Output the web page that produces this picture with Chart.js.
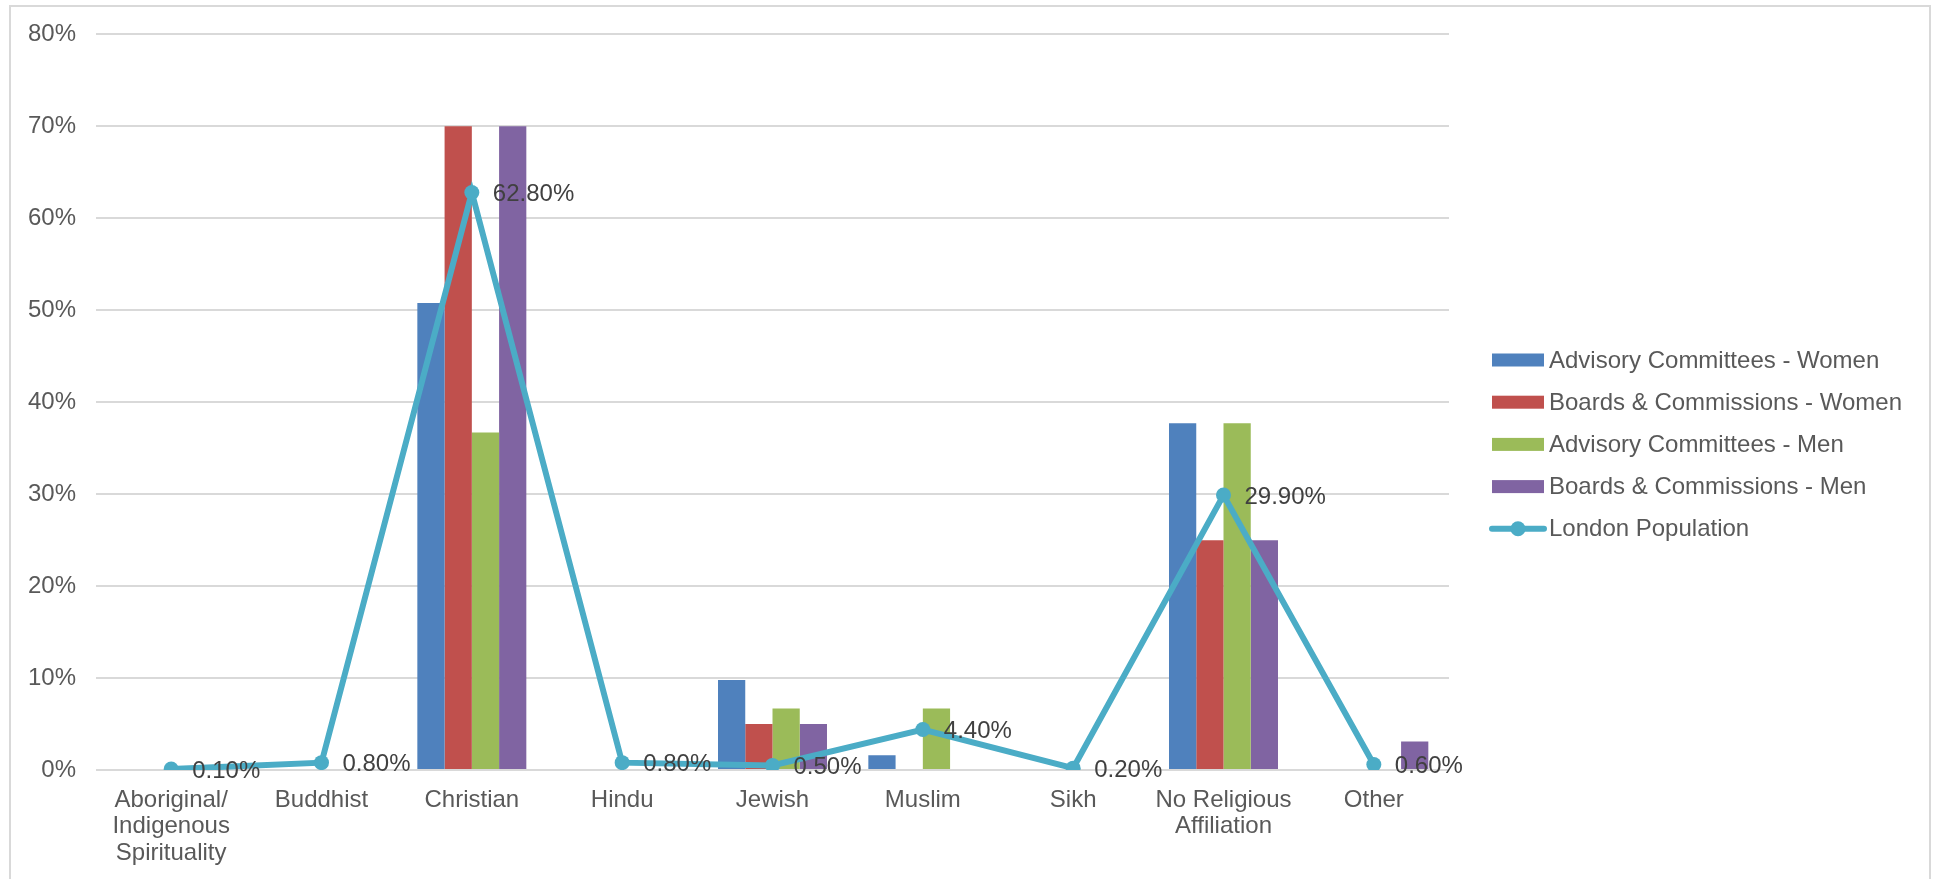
<!DOCTYPE html>
<html>
<head>
<meta charset="utf-8">
<script src="https://cdn.jsdelivr.net/npm/chart.js@4/dist/chart.umd.min.js"></script>
<style>
  html, body { margin: 0; padding: 0; background: #fff; overflow: hidden; }
  #wrap { position: relative; width: 1933px; height: 879px; }
  #frame { position: absolute; left: 9px; top: 5px; width: 1918px; height: 900px; border: 2px solid #d9d9d9; }
  #chart { position: absolute; left: 0; top: 0; }
</style>
</head>
<body>
<div id="wrap">
  <div id="frame"></div>
  <canvas id="chart" width="1933" height="879"></canvas>
</div>
<script>
const categories = [
    ['Aboriginal/', 'Indigenous', 'Spirituality'],
    'Buddhist', 'Christian', 'Hindu', 'Jewish', 'Muslim', 'Sikh',
    ['No Religious', 'Affiliation'],
    'Other'
];
const advisoryWomen = [0, 0, 50.8, 0, 9.8, 1.6, 0, 37.7, 0];
const boardsWomen   = [0, 0, 70, 0, 5, 0, 0, 25, 0];
const advisoryMen   = [0, 0, 36.7, 0, 6.7, 6.7, 0, 37.7, 0];
const boardsMen     = [0, 0, 70, 0, 5, 0, 0, 25, 3.1];
const londonPop     = [0.1, 0.8, 62.8, 0.8, 0.5, 4.4, 0.2, 29.9, 0.6];
const yTicks = [0, 10, 20, 30, 40, 50, 60, 70, 80];

const FONT = "'Liberation Sans', Arial, sans-serif";

// value labels to the right of each population point
const pointLabels = {
    id: 'pointLabels',
    afterDatasetsDraw(chart) {
        const ctx = chart.ctx;
        const meta = chart.getDatasetMeta(4);
        ctx.save();
        ctx.font = '24px ' + FONT;
        ctx.fillStyle = '#404040';
        ctx.textAlign = 'left';
        ctx.textBaseline = 'middle';
        meta.data.forEach((pt, i) => {
            ctx.fillText(londonPop[i].toFixed(2) + '%', pt.x + 21, pt.y + 2);
        });
        ctx.restore();
    }
};

// legend on the right, drawn from the datasets
const sideLegend = {
    id: 'sideLegend',
    afterDraw(chart) {
        const ctx = chart.ctx;
        const x0 = 1492, top = 360, step = 42.2;
        ctx.save();
        ctx.font = '24px ' + FONT;
        ctx.textBaseline = 'middle';
        ctx.textAlign = 'left';
        chart.data.datasets.forEach((ds, i) => {
            const y = top + i * step;
            if (ds.type === 'line') {
                ctx.strokeStyle = ds.borderColor;
                ctx.lineWidth = 6;
                ctx.lineCap = 'round';
                ctx.beginPath();
                ctx.moveTo(x0, y);
                ctx.lineTo(x0 + 52, y);
                ctx.stroke();
                ctx.fillStyle = ds.borderColor;
                ctx.beginPath();
                ctx.arc(x0 + 26, y, 7.5, 0, Math.PI * 2);
                ctx.fill();
            } else {
                ctx.fillStyle = ds.backgroundColor;
                ctx.fillRect(x0, y - 6.5, 52, 13);
            }
            ctx.fillStyle = '#595959';
            ctx.fillText(ds.label, x0 + 57, y + 1);
        });
        ctx.restore();
    }
};

new Chart(document.getElementById('chart').getContext('2d'), {
    type: 'bar',
    data: {
        labels: categories,
        datasets: [
            { label: 'Advisory Committees - Women', data: advisoryWomen, backgroundColor: '#4F81BD', order: 1 },
            { label: 'Boards & Commissions - Women', data: boardsWomen, backgroundColor: '#C0504D', order: 1 },
            { label: 'Advisory Committees - Men', data: advisoryMen, backgroundColor: '#9BBB59', order: 1 },
            { label: 'Boards & Commissions - Men', data: boardsMen, backgroundColor: '#8064A2', order: 1 },
            {
                type: 'line',
                label: 'London Population',
                data: londonPop,
                borderColor: '#4BACC6',
                backgroundColor: '#4BACC6',
                borderWidth: 6,
                pointRadius: 7.5,
                pointBackgroundColor: '#4BACC6',
                pointBorderWidth: 0,
                tension: 0,
                order: 0
            }
        ]
    },
    options: {
        responsive: false,
        animation: false,
        events: [],
        layout: { padding: { top: 34, right: 484, left: 0, bottom: 0 } },
        datasets: {
            bar: { categoryPercentage: 0.725, barPercentage: 1.0 }
        },
        plugins: {
            legend: { display: false },
            tooltip: { enabled: false }
        },
        scales: {
            x: {
                grid: { display: false, drawTicks: false },
                border: { display: false },
                ticks: {
                    color: '#595959',
                    font: { family: FONT, size: 24, lineHeight: 1.1 },
                    padding: 17,
                    maxRotation: 0,
                    autoSkip: false
                },
                afterFit(scale) { scale.height = 109; }
            },
            y: {
                min: 0,
                max: 80,
                afterBuildTicks(scale) { scale.ticks = yTicks.map(v => ({ value: v })); },
                grid: { color: '#d9d9d9', lineWidth: 2, drawTicks: false },
                border: { display: false },
                ticks: {
                    color: '#595959',
                    font: { family: FONT, size: 24 },
                    padding: 20,
                    callback: v => v + '%'
                },
                afterFit(scale) { scale.width = 96; }
            }
        }
    },
    plugins: [pointLabels, sideLegend]
});
</script>
</body>
</html>
